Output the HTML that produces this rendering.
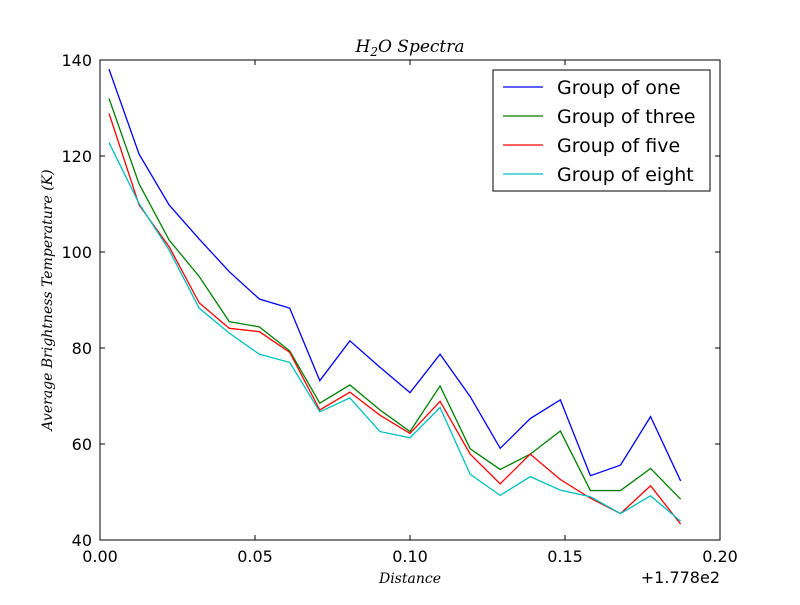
<!DOCTYPE html>
<html><head><meta charset="utf-8"><style>
body{margin:0;background:#fff;}
svg text{font-family:"DejaVu Sans","Liberation Sans",sans-serif;}
.m{font-family:"DejaVu Serif","Liberation Serif",serif;font-style:italic;}
</style></head><body>
<svg id="chart" width="800" height="600" xmlns="http://www.w3.org/2000/svg">
<rect width="800" height="600" fill="#fff"/>
<g id="plot"></g>
<text class="m" x="410" y="52" text-anchor="middle" font-size="17">H<tspan font-size="12" dy="4">2</tspan><tspan dy="-4">O Spectra</tspan></text>
<text class="m" x="410" y="583" text-anchor="middle" font-size="14">Distance</text>
<text class="m" transform="translate(52,300) rotate(-90)" text-anchor="middle" font-size="14">Average Brightness Temperature (K)</text>
<text x="720" y="583" text-anchor="end" font-size="16">+1.778e2</text>
</svg>
<script>
const xTicks=[0,0.05,0.10,0.15,0.20];
const xTickLabels=["0.00","0.05","0.10","0.15","0.20"];
const yTicks=[40,60,80,100,120,140];
const xValues=[0.0029,0.0126,0.0223,0.0320,0.0417,0.0514,0.0612,0.0709,0.0806,0.0903,0.1000,0.1097,0.1194,0.1291,0.1388,0.1485,0.1582,0.1679,0.1776,0.1873];
const seriesNames=["Group of one","Group of three","Group of five","Group of eight"];
const one=[138.1,120.4,109.8,102.7,95.9,90.2,88.3,73.2,81.5,76.0,70.7,78.7,69.9,59.1,65.3,69.2,53.4,55.6,65.7,52.3];
const three=[132.0,114.2,102.5,94.9,85.5,84.4,79.4,68.5,72.3,67.1,62.6,72.1,59.0,54.7,57.9,62.7,50.3,50.3,54.9,48.5];
const five=[128.9,109.8,101.1,89.4,84.1,83.4,79.1,67.1,70.8,66.0,62.2,68.9,57.9,51.7,57.9,52.6,48.7,45.5,51.3,43.3];
const eight=[122.8,110.1,100.4,88.3,83.1,78.7,77.0,66.7,69.6,62.6,61.3,67.6,53.7,49.3,53.2,50.4,49.0,45.5,49.2,43.9];
const colors=["#0000ff","#008000","#ff0000","#00bfbf"];
const L=100,R=720,T=60,B=540;
const xs=v=>L+(v-0)/(0.2-0)*(R-L);
const ys=v=>B-(v-40)/(140-40)*(B-T);
const NS="http://www.w3.org/2000/svg";
const g=document.getElementById('plot');
function mk(t,a){const e=document.createElementNS(NS,t);for(const k in a)e.setAttribute(k,a[k]);g.appendChild(e);return e;}
[one,three,five,eight].forEach((s,i)=>{
 const p=mk('polyline',{points:s.map((v,j)=>xs(xValues[j])+','+ys(v)).join(' '),fill:'none',stroke:colors[i],'stroke-width':1.3});
 
 
});
const frame=mk('rect',{x:L,y:T,width:R-L,height:B-T,fill:'none',stroke:'#000','stroke-width':1});


xTicks.forEach((v,i)=>{
 const x=xs(v);
 mk('line',{x1:x,y1:B,x2:x,y2:B-5,stroke:'#000'});
 mk('line',{x1:x,y1:T,x2:x,y2:T+5,stroke:'#000'});
 const t=mk('text',{x:x,y:B+22,'text-anchor':'middle','font-size':16});
 t.textContent=xTickLabels[i];
 
 
});
yTicks.forEach(v=>{
 const y=ys(v);
 mk('line',{x1:L,y1:y,x2:L+5,y2:y,stroke:'#000'});
 mk('line',{x1:R,y1:y,x2:R-5,y2:y,stroke:'#000'});
 const t=mk('text',{x:L-8,y:y+6,'text-anchor':'end','font-size':16});
 t.textContent=v;
 
 
});
const lg=mk('rect',{x:493,y:70,width:217,height:121,fill:'#fff',stroke:'#000'});


seriesNames.forEach((n,i)=>{
 const y=87+i*29;
 mk('line',{x1:503,y1:y,x2:543,y2:y,stroke:colors[i],'stroke-width':1.3});
 const t=mk('text',{x:557,y:y+7,'font-size':19});
 t.textContent=n;
 
 
});
</script>
</body></html>
